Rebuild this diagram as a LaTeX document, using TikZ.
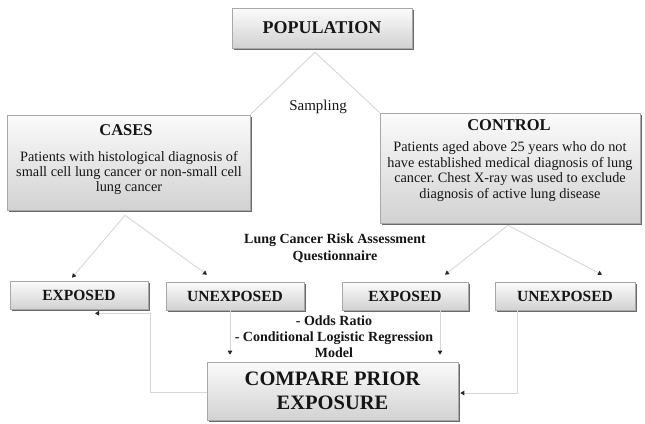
\documentclass[tikz,border=0pt]{standalone}
\usepackage{fontspec}
\setmainfont{Liberation Serif}
\usetikzlibrary{shadows,arrows.meta}
\frenchspacing
\definecolor{boxline}{HTML}{A8A8A8}
\definecolor{boxtop}{HTML}{FBFBFB}
\definecolor{boxbot}{HTML}{D2D2D2}
\definecolor{connc}{HTML}{D6D6D6}
\definecolor{shadowc}{HTML}{505050}
\definecolor{txt}{HTML}{151515}
\tikzset{
  box/.style={draw=boxline, line width=0.6pt, top color=boxtop, bottom color=boxbot,
    drop shadow={shadow xshift=2pt, shadow yshift=-2pt, fill=shadowc, opacity=0.85},
    inner sep=0pt, align=center, text=txt},
  lbl/.style={inner sep=0pt, align=center, text=txt},
  conn/.style={draw=connc, line width=0.9pt},
  arr/.style={conn, -{Triangle[length=4pt,width=4.5pt,color=black!85]}},
}
\begin{document}
\begin{tikzpicture}[x=1pt,y=-1pt]
\useasboundingbox (0,0) rectangle (645,423);
% boxes
\node[box, minimum width=180pt, minimum height=40pt, font=\fontsize{18}{20}\selectfont\bfseries] (pop) at (322,28) {POPULATION};
\node[box, minimum width=243pt, minimum height=95pt] (cases) at (128.5,162.5) {};
\node[box, minimum width=260pt, minimum height=110pt] (control) at (510,168) {};
\node[box, minimum width=138pt, minimum height=28pt, font=\fontsize{15.5}{17}\selectfont\bfseries] (exp1) at (79,295) {EXPOSED};
\node[box, minimum width=138pt, minimum height=28pt, font=\fontsize{15.5}{17}\selectfont\bfseries] (unexp1) at (235,296) {UNEXPOSED};
\node[box, minimum width=126pt, minimum height=28pt, font=\fontsize{15.5}{17}\selectfont\bfseries] (exp2) at (405,296) {EXPOSED};
\node[box, minimum width=140pt, minimum height=28pt, font=\fontsize{15.5}{17}\selectfont\bfseries] (unexp2) at (565,296) {UNEXPOSED};
\node[box, minimum width=251pt, minimum height=58pt, font=\fontsize{20.5}{24}\selectfont\bfseries] (compare) at (332.5,391) {COMPARE PRIOR\\EXPOSURE};
% texts in boxes
\node[lbl, font=\fontsize{16.5}{18}\selectfont\bfseries] (casest) at (126,130) {CASES};
\node[lbl, font=\fontsize{14.3}{15}\selectfont] (casesb) at (129,173.5) {Patients with histological diagnosis of\\small cell lung cancer or non-small cell\\lung cancer};
\node[lbl, font=\fontsize{16.5}{18}\selectfont\bfseries] (controlt) at (509,125) {CONTROL};
\node[lbl, font=\fontsize{14.3}{15.6}\selectfont] (controlb) at (510,171.5) {Patients aged above 25 years who do not\\have established medical diagnosis of lung\\cancer. Chest X-ray was used to exclude\\diagnosis of active lung disease};
% free labels
\node[lbl, font=\fontsize{15}{17}\selectfont] (sampling) at (318,107) {Sampling};
\node[lbl, font=\fontsize{14}{17}\selectfont\bfseries] (quest) at (335,248.5) {Lung Cancer Risk Assessment\\Questionnaire};
\node[lbl, font=\fontsize{14}{16}\selectfont\bfseries] (stats) at (334,336.5) {- Odds Ratio\\- Conditional Logistic Regression\\Model};
% connectors
\draw[conn] ([xshift=-7pt,yshift=-4pt]pop.south) -- (cases.north east);
\draw[conn] ([xshift=-7pt,yshift=-4pt]pop.south) -- (control.north west);
\draw[arr] ([xshift=-3.5pt,yshift=-5pt]cases.south) -- ([xshift=-7pt,yshift=3pt]exp1.north);
\draw[arr] ([xshift=-3.5pt,yshift=-5pt]cases.south) -- ([xshift=-28pt,yshift=7pt]unexp1.north);
\draw[arr] ([xshift=-2pt,yshift=-2pt]control.south) -- ([xshift=40pt,yshift=7pt]exp2.north);
\draw[arr] ([xshift=-2pt,yshift=-2pt]control.south) -- ([xshift=37pt,yshift=7pt]unexp2.north);
\draw[arr] ([xshift=-5pt]unexp1.south) -- ([xshift=-5pt,yshift=7pt]unexp1.south |- compare.north);
\draw[arr] ([xshift=35pt]exp2.south) -- ([xshift=35pt,yshift=7pt]exp2.south |- compare.north);
\draw[arr] ([xshift=-48pt]unexp2.south) |- ([xshift=2pt,yshift=-2pt]compare.east);
\draw[arr] ([yshift=-1pt]compare.west) -| ([xshift=2pt,yshift=-4pt]exp1.south east) -- ([xshift=16pt,yshift=-4pt]exp1.south);
\end{tikzpicture}
\end{document}
